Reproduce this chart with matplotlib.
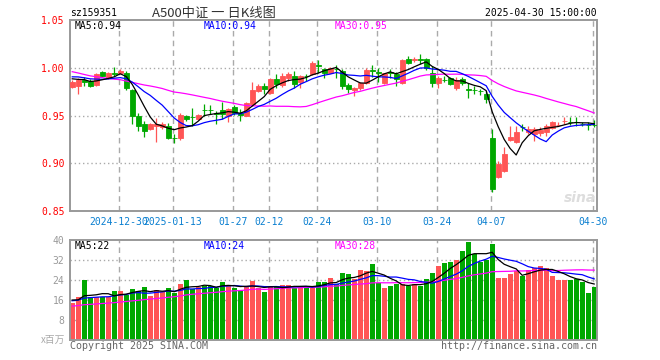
import matplotlib
matplotlib.use("Agg")
from matplotlib import pyplot as plt
import pandas as pd

RED = "#ff5555"
GREEN = "#00a800"
GRID = "#aaaaaa"
MONO = "DejaVu Sans Mono"
CJK = ["Noto Sans CJK SC", "DejaVu Sans"]

# trading days shown (Shenzhen calendar, holidays removed)
holidays = ["2025-01-01", "2025-01-28", "2025-01-29", "2025-01-30",
            "2025-01-31", "2025-02-03", "2025-02-04", "2025-04-04"]
dates = [d for d in pd.bdate_range("2024-12-18", "2025-04-30")
         if d.strftime("%Y-%m-%d") not in holidays]

opens = [0.980, 0.981, 0.987, 0.986, 0.982, 0.996, 0.989, 0.9942, 0.994, 0.995,
         0.977, 0.949, 0.941, 0.936, 0.939, 0.9375, 0.9386, 0.9268, 0.926, 0.950,
         0.9483, 0.9462, 0.956, 0.9562, 0.9527, 0.9556, 0.950, 0.9584, 0.953, 0.9497,
         0.9618, 0.976, 0.981, 0.974, 0.988, 0.9816, 0.9896, 0.9913, 0.985, 0.9915,
         0.993, 1.0026, 0.999, 0.9948, 0.9992, 0.9965, 0.9816, 0.977, 0.9785, 0.9844,
         0.9975, 0.9955, 0.9844, 0.9952, 0.993, 0.9837, 1.0088, 1.0083, 1.0089, 1.0088,
         0.9942, 0.9837, 0.9875, 0.989, 0.9785, 0.988, 0.9775, 0.9769, 0.9759, 0.9722,
         0.9268, 0.8855, 0.8924, 0.9247, 0.9226, 0.9379, 0.9323, 0.9306, 0.9316, 0.933,
         0.9365, 0.9396, 0.9441, 0.9437, 0.943, 0.9412, 0.9402, 0.9402]
highs = [0.987, 0.989, 0.990, 0.988, 0.994, 0.997, 0.996, 1.001, 0.999, 0.997,
         0.978, 0.9525, 0.944, 0.942, 0.947, 0.943, 0.942, 0.9306, 0.953, 0.951,
         0.958, 0.9515, 0.962, 0.961, 0.955, 0.9646, 0.958, 0.961, 0.9566, 0.964,
         0.985, 0.9827, 0.984, 0.9895, 0.993, 0.995, 0.9958, 0.997, 0.992, 0.9937,
         1.0066, 1.008, 1.000, 1.001, 1.0028, 0.999, 0.9844, 0.980, 0.9855, 1.000,
         1.0024, 1.000, 0.995, 0.999, 0.9955, 1.009, 1.0126, 1.0115, 1.0139, 1.0098,
         1.0018, 0.991, 0.9913, 0.990, 0.9899, 0.990, 0.9844, 0.981, 0.978, 0.9757,
         0.9358, 0.9028, 0.9167, 0.9393, 0.9386, 0.941, 0.9386, 0.9375, 0.9375, 0.941,
         0.9445, 0.943, 0.9487, 0.948, 0.948, 0.9427, 0.9437, 0.9455]
lows = [0.979, 0.972, 0.981, 0.980, 0.981, 0.990, 0.988, 0.991, 0.993, 0.977,
        0.941, 0.934, 0.928, 0.935, 0.9226, 0.936, 0.925, 0.9212, 0.9247, 0.944,
        0.9386, 0.945, 0.950, 0.9515, 0.941, 0.946, 0.9434, 0.951, 0.9445, 0.949,
        0.960, 0.975, 0.9722, 0.973, 0.979, 0.980, 0.986, 0.979, 0.979, 0.986,
        0.992, 0.9948, 0.9896, 0.994, 0.9896, 0.9775, 0.974, 0.970, 0.977, 0.983,
        0.9906, 0.9855, 0.983, 0.9896, 0.981, 0.9825, 1.0035, 1.006, 1.0035, 0.9975,
        0.980, 0.979, 0.9846, 0.982, 0.977, 0.982, 0.9688, 0.9722, 0.9712, 0.963,
        0.870, 0.8845, 0.8907, 0.9237, 0.9212, 0.934, 0.9306, 0.9237, 0.9289, 0.9289,
        0.9358, 0.9386, 0.941, 0.940, 0.9393, 0.9386, 0.9351, 0.9375]
closes = [0.985, 0.987, 0.985, 0.981, 0.993, 0.991, 0.994, 0.9935, 0.997, 0.9785,
          0.950, 0.9386, 0.934, 0.941, 0.941, 0.941, 0.9265, 0.9262, 0.950, 0.946,
          0.948, 0.950, 0.9555, 0.9557, 0.9511, 0.9515, 0.9566, 0.9525, 0.9503, 0.9636,
          0.9764, 0.981, 0.9775, 0.9885, 0.9826, 0.9913, 0.993, 0.9826, 0.991, 0.991,
          1.0052, 1.0022, 0.9948, 1.000, 0.999, 0.981, 0.9775, 0.9785, 0.9844, 0.998,
          0.9965, 0.9948, 0.9942, 0.9948, 0.9879, 1.0081, 1.0053, 1.0087, 1.0085, 1.0001,
          0.9844, 0.9896, 0.9871, 0.983, 0.9872, 0.984, 0.977, 0.9766, 0.9755, 0.967,
          0.8733, 0.8993, 0.9098, 0.9278, 0.933, 0.9375, 0.9358, 0.9358, 0.9351, 0.9386,
          0.9427, 0.940, 0.9445, 0.9434, 0.9427, 0.941, 0.9398, 0.9398]
# volume in millions
volumes = [14.9, 17.2, 24.0, 17.2, 17.1, 17.2, 17.1, 19.7, 19.7, 18.0,
           20.4, 19.5, 21.2, 17.6, 20.0, 19.2, 20.8, 19.0, 22.4, 24.0,
           20.3, 21.3, 21.6, 21.6, 20.7, 23.2, 22.1, 20.9, 20.0, 21.3,
           23.7, 20.9, 19.2, 21.3, 21.3, 22.0, 22.0, 20.7, 21.3, 21.6,
           21.3, 23.2, 23.2, 24.9, 22.3, 26.9, 26.5, 24.5, 28.1, 27.7,
           30.4, 22.9, 20.8, 21.6, 22.5, 22.5, 21.6, 22.5, 21.6, 24.4,
           26.9, 29.6, 30.9, 31.2, 32.1, 35.6, 39.3, 34.4, 31.3, 32.0,
           38.4, 24.9, 24.9, 26.4, 27.6, 25.6, 28.1, 28.7, 29.7, 28.9,
           25.7, 24.1, 24.1, 24.0, 24.6, 23.3, 18.9, 21.2]

# sessions before the visible window, only used to seed the moving averages
earlier_closes = [1.028, 1.031, 1.025, 1.019, 1.022, 1.016, 1.018, 1.013, 1.022, 0.990,
                  0.981, 0.975, 0.972, 0.978, 0.983, 0.985, 0.979, 0.974, 0.977, 0.983,
                  0.988, 0.994, 0.992, 0.996, 0.993, 0.990, 0.986, 0.991, 0.990]
earlier_volumes = [11.8, 12.6, 13.4, 12.1, 11.5, 12.9, 13.8, 12.2, 11.9, 12.7,
                   13.1, 12.4, 11.6, 12.8, 13.3, 12.0, 12.5, 13.0, 11.9, 12.5,
                   14.8, 15.9, 15.2, 15.6, 15.5, 16.9, 15.8, 16.4, 16.0]

tick_dates = ["2024-12-30", "2025-01-13", "2025-01-27", "2025-02-12", "2025-02-24",
              "2025-03-10", "2025-03-24", "2025-04-07", "2025-04-30"]
tick_labels = ["2024-12-30", "2025-01-13", "01-27", "02-12", "02-24",
               "03-10", "03-24", "04-07", "04-30"]
price_ticks = [0.85, 0.90, 0.95, 1.00, 1.05]
volume_ticks = [8, 16, 24, 32, 40]

n = len(closes)
x = list(range(n))
colors = [RED if c >= o else GREEN for o, c in zip(opens, closes)]

close_all = pd.Series(earlier_closes + closes)
vol_all = pd.Series(earlier_volumes + volumes)
k = len(earlier_closes)
ma_price = {w: close_all.rolling(w, min_periods=1).mean().iloc[k:].values for w in (5, 10, 30)}
ma_vol = {w: vol_all.rolling(w, min_periods=1).mean().iloc[k:].values for w in (5, 10, 30)}
ma_colors = {5: "black", 10: "#0000ff", 30: "#ff00ff"}

W, H = 660, 360
fig = plt.figure(figsize=(W / 100, H / 100), dpi=100)
ax = fig.add_axes([70 / W, 1 - 211 / H, 527 / W, 191 / H])
axv = fig.add_axes([70 / W, 1 - 340 / H, 527 / W, 100 / H])

day_index = [d.strftime("%Y-%m-%d") for d in dates]
grid_x = [day_index.index(d) - 0.25 for d in tick_dates]

for a in (ax, axv):
    a.set_xlim(-0.37, n - 0.53)
    for gx in grid_x:
        a.axvline(gx, color=GRID, lw=1, ls=(0, (4, 3)), zorder=0)
    for s in a.spines.values():
        s.set_color("#999999")
        s.set_linewidth(1.4)
    a.tick_params(length=0, labelsize=7)

# candles
ax.vlines(x, lows, highs, colors=colors, lw=0.9, zorder=2)
ax.bar(x, [abs(c - o) for o, c in zip(opens, closes)], bottom=[min(o, c) for o, c in zip(opens, closes)],
       width=0.83, color=colors, edgecolor=colors, linewidth=0.6, zorder=3)
for w in (30, 10, 5):
    ax.plot(x, ma_price[w], color=ma_colors[w], lw=0.9, zorder=4)
ax.set_ylim(0.85, 1.05)
ax.set_yticks(price_ticks)
ax.set_yticklabels(["%.2f" % t for t in price_ticks], color="red", family=MONO)
for t in price_ticks[1:-1]:
    ax.axhline(t, color=GRID, lw=1, ls=(0, (1, 2)), zorder=0)
ax.set_xticks(grid_x)
ax.set_xticklabels(tick_labels, color="#0a7fd0", family=MONO)
ax.tick_params(axis="x", pad=4)
ax.tick_params(axis="y", pad=4)

# volume
axv.bar(x, volumes, width=0.83, color=colors, zorder=2)
for w in (30, 10, 5):
    axv.plot(x, ma_vol[w], color=ma_colors[w], lw=0.9, zorder=4)
axv.set_ylim(0, 40)
axv.set_yticks(volume_ticks)
axv.set_yticklabels([str(t) for t in volume_ticks], color="#999999", family=MONO)
for t in volume_ticks[:-1]:
    axv.axhline(t, color=GRID, lw=1, ls=(0, (1, 2)), zorder=0)
axv.set_xticks([])
axv.tick_params(axis="y", pad=4)


def put(px, py, s, **kw):
    fig.text(px / W, 1 - py / H, s, va="center", **kw)


put(70, 13.5, "sz159351", family=MONO, fontsize=7)
put(214, 13.5, "A500中证 一 日K线图", family=CJK, fontsize=9.5, color="#333333", ha="center")
put(597, 13.5, "2025-04-30 15:00:00", family=MONO, fontsize=7, ha="right")

put(75, 26, "MA5:%.2f" % ma_price[5][-1], family=MONO, fontsize=7)
put(204, 26, "MA10:%.2f" % ma_price[10][-1], family=MONO, fontsize=7, color="#0000ff")
put(335, 26, "MA30:%.2f" % ma_price[30][-1], family=MONO, fontsize=7, color="#ff00ff")

put(75, 246, "MA5:%d" % round(ma_vol[5][-1]), family=MONO, fontsize=7)
put(204, 246, "MA10:%d" % round(ma_vol[10][-1]), family=MONO, fontsize=7, color="#0000ff")
put(335, 246, "MA30:%d" % round(ma_vol[30][-1]), family=MONO, fontsize=7, color="#ff00ff")

put(65, 340, "x百万", family=CJK, fontsize=7, color="#aaaaaa", ha="right")
put(70, 346, "Copyright 2025 SINA.COM", family=MONO, fontsize=7.2, color="#666666")
put(597, 346, "http://finance.sina.com.cn", family=MONO, fontsize=7.2, color="#666666", ha="right")
put(580, 198, "sina", fontsize=10, fontweight="bold", style="italic", color="#dddddd", ha="center")

fig.savefig("out.png", dpi=100)
